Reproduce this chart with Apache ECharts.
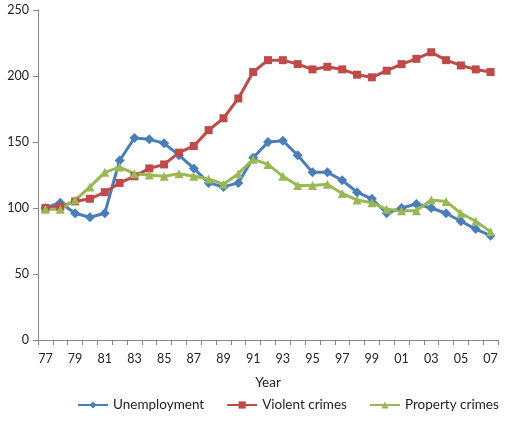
<!DOCTYPE html>
<html><head><meta charset="utf-8">
<script src="https://cdn.jsdelivr.net/npm/echarts@6/dist/echarts.min.js"></script>
<style>html,body{margin:0;padding:0;background:#fff}#c{width:507px;height:423px}</style>
</head><body><div id="c"></div>
<script>
const years = ['77','78','79','80','81','82','83','84','85','86','87','88','89','90','91','92','93','94','95','96','97','98','99','00','01','02','03','04','05','06','07'];
const unemployment = [100,104,96,93,96,136,153,152,149,140,130,119,116,119,138,150,151,140,127,127,121,112,107,96,100,103,100,96,90,84,79];
const violentCrimes = [100,101,105,107,112,119,124,130,133,142,147,159,168,183,203,212,212,209,205,207,205,201,199,204,209,213,218,212,208,205,203];
const propertyCrimes = [99,99,106,116,127,131,126,125,124,126,124,122,118,126,137,133,124,117,117,118,111,106,104,99,98,98,106,105,96,90,82];
const yTicks = [0,50,100,150,200,250];

const font = 'Lato, "Open Sans", sans-serif';
const chart = echarts.init(document.getElementById('c'));
chart.setOption({
  animation: false,
  textStyle: {fontFamily: font},
  grid: {left: 38, right: 9, top: 10, bottom: 83, containLabel: false},
  xAxis: {
    type: 'category', data: years, boundaryGap: true,
    name: 'Year', nameLocation: 'middle', nameGap: 36,
    nameTextStyle: {color: '#222', fontSize: 13.5, fontFamily: font},
    axisLine: {lineStyle: {color: '#868686'}},
    axisTick: {show: true, interval: 0, length: 5, lineStyle: {color: '#868686'}},
    axisLabel: {interval: 1, color: '#222', fontSize: 12.5, margin: 12, fontFamily: font},
    splitLine: {show: false}
  },
  yAxis: {
    type: 'value', min: yTicks[0], max: yTicks[yTicks.length-1], interval: 50,
    axisLine: {show: true, lineStyle: {color: '#868686'}},
    axisTick: {show: true, length: 5, lineStyle: {color: '#868686'}},
    axisLabel: {color: '#222', fontSize: 12.5, margin: 9, fontFamily: font},
    splitLine: {show: false}
  },
  legend: {
    top: 398, left: 77, width: 440, itemGap: 22, itemWidth: 30, itemHeight: 9, padding: 0,
    textStyle: {color: '#222', fontSize: 13.5, fontFamily: font}
  },
  series: [
    {name: 'Unemployment', type: 'line', data: unemployment, symbol: 'diamond', symbolSize: 10, showAllSymbol: true,
     lineStyle: {color: '#4A7EBB', width: 3}, itemStyle: {color: '#4A7EBB'}},
    {name: 'Violent crimes', type: 'line', data: violentCrimes, symbol: 'rect', symbolSize: 8, showAllSymbol: true,
     lineStyle: {color: '#BE4B48', width: 3}, itemStyle: {color: '#BE4B48'}},
    {name: 'Property crimes', type: 'line', data: propertyCrimes, symbol: 'triangle', symbolSize: 9, showAllSymbol: true,
     lineStyle: {color: '#98B954', width: 3}, itemStyle: {color: '#98B954'}}
  ]
});
</script></body></html>
